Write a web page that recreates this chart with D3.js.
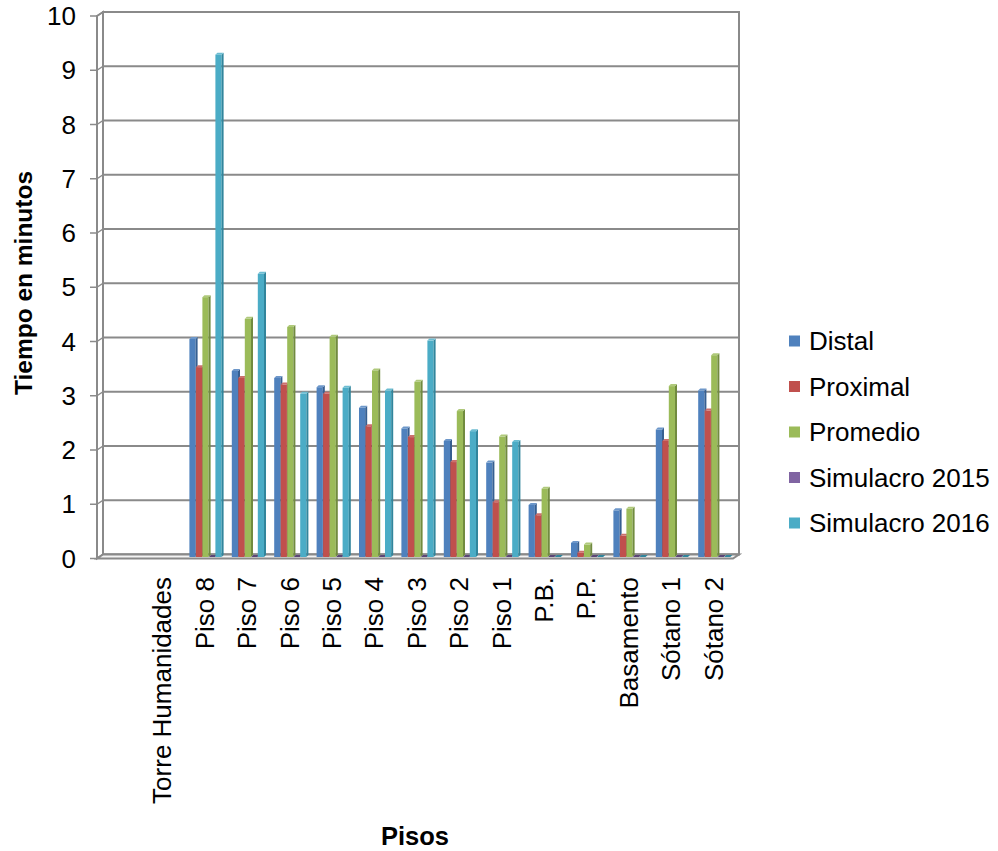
<!DOCTYPE html>
<html>
<head>
<meta charset="utf-8">
<script src="https://cdn.jsdelivr.net/npm/d3@7"></script>
<style>
  html, body { margin: 0; padding: 0; background: #fff; }
  svg { display: block; font-family: "Liberation Sans", Arial, sans-serif; }
</style>
</head>
<body>
<svg id="chart" width="998" height="851"></svg>
<script>
// Floors of the building (first entry is the building name, no data)
const categories = ["Torre Humanidades", "Piso 8", "Piso 7", "Piso 6", "Piso 5", "Piso 4",
  "Piso 3", "Piso 2", "Piso 1", "P.B.", "P.P.", "Basamento", "Sótano 1", "Sótano 2"];

const seriesNames = ["Distal", "Proximal", "Promedio", "Simulacro 2015", "Simulacro 2016"];
const seriesColors = ["#4F81BD", "#C0504D", "#9BBB59", "#8064A2", "#4BACC6"];
const seriesSides  = ["#365F91", "#8E3A38", "#718B3F", "#5C4776", "#31859C"];
const seriesTops   = ["#6D97CA", "#CC706D", "#AFC97A", "#9880B6", "#6CBDD2"];

// Evacuation time in minutes per floor
const distal      = [null, 4.02, 3.43, 3.30, 3.13, 2.75, 2.37, 2.14, 1.74, 0.96, 0.26, 0.86, 2.35, 3.07];
const proximal    = [null, 3.50, 3.30, 3.18, 3.01, 2.41, 2.21, 1.75, 1.01, 0.77, 0.08, 0.39, 2.14, 2.70];
const promedio    = [null, 4.79, 4.39, 4.24, 4.06, 3.44, 3.23, 2.69, 2.22, 1.26, 0.23, 0.89, 3.15, 3.72];
const simulacro15 = [null, 0, 0, 0, 0, 0, 0, 0, 0, 0, 0, 0, 0, 0];
const simulacro16 = [null, 9.26, 5.22, 3.01, 3.12, 3.07, 3.99, 2.32, 2.12, 0, 0, 0, 0, 0];

const yTicks = [0, 1, 2, 3, 4, 5, 6, 7, 8, 9, 10];

const seriesValues = [distal, proximal, promedio, simulacro15, simulacro16];

const svg = d3.select("#chart");
const gray = "#8a8a8a";
const fontSize = 26;

// 3D box geometry: front axis plane and back wall plane
const depthX = 6, depthY = -4;
const frontLeft = 97, frontRight = 733;
const yFront = d3.scaleLinear().domain([0, 10]).range([558.5, 16]);
const yBack = v => yFront(v) + depthY;

// Category and series scales
const x0 = d3.scaleBand().domain(categories).range([141, 734.6]).paddingInner(0);
const x1 = d3.scaleBand().domain(seriesNames).range([6, 6 + 32.5]).paddingInner(0);

// Back wall
svg.append("rect")
  .attr("x", frontLeft + depthX).attr("y", yBack(10))
  .attr("width", frontRight - frontLeft).attr("height", yBack(0) - yBack(10))
  .attr("fill", "#fff").attr("stroke", gray).attr("stroke-width", 2);

// Gridlines on the back wall and their continuation on the left wall
const grid = svg.append("g");
yTicks.forEach(v => {
  grid.append("line")
    .attr("x1", frontLeft + depthX).attr("x2", frontRight + depthX)
    .attr("y1", yBack(v)).attr("y2", yBack(v))
    .attr("stroke", gray).attr("stroke-width", 2);
  grid.append("line")
    .attr("x1", frontLeft).attr("x2", frontLeft + depthX)
    .attr("y1", yFront(v)).attr("y2", yBack(v))
    .attr("stroke", gray).attr("stroke-width", 1.5);
});

// Left wall outline
svg.append("polygon")
  .attr("points", [
    [frontLeft, yFront(10)], [frontLeft + depthX, yBack(10)],
    [frontLeft + depthX, yBack(0)], [frontLeft, yFront(0)]
  ].map(p => p.join(",")).join(" "))
  .attr("fill", "none").attr("stroke", gray).attr("stroke-width", 2);

// Floor
svg.append("polygon")
  .attr("points", [
    [frontLeft, yFront(0)], [frontLeft + depthX, yBack(0)],
    [frontRight + depthX, yBack(0)], [frontRight, yFront(0)]
  ].map(p => p.join(",")).join(" "))
  .attr("fill", "#f4f4f4").attr("stroke", gray).attr("stroke-width", 2);

// Bars (front face, side face, top face)
const barW = 6.2, bdx = 2, bdy = 2;
const barBase = 557;
const unit = yFront(0) - yFront(1);
const bars = svg.append("g");
categories.forEach((cat, ci) => {
  seriesNames.forEach((s, si) => {
    const v = seriesValues[si][ci];
    if (v === null || v === undefined) return;
    const x = x0(cat) + x1(s);
    const yt = barBase - v * unit;
    const g = bars.append("g");
    if (v > 0) {
      g.append("rect")
        .attr("x", x).attr("y", yt)
        .attr("width", barW).attr("height", barBase - yt)
        .attr("fill", seriesColors[si]);
      g.append("polygon")
        .attr("points", [[x + barW, yt], [x + barW + bdx, yt - bdy],
          [x + barW + bdx, barBase - bdy], [x + barW, barBase]].map(p => p.join(",")).join(" "))
        .attr("fill", seriesSides[si]);
    }
    g.append("polygon")
      .attr("points", [[x, yt], [x + bdx, yt - bdy],
        [x + barW + bdx, yt - bdy], [x + barW, yt]].map(p => p.join(",")).join(" "))
      .attr("fill", v > 0 ? seriesTops[si] : seriesSides[si]);
  });
});

// Front vertical axis with ticks and labels
const axisG = svg.append("g");
axisG.append("line")
  .attr("x1", frontLeft).attr("x2", frontLeft)
  .attr("y1", yFront(10)).attr("y2", yFront(0))
  .attr("stroke", gray).attr("stroke-width", 2);
yTicks.forEach(v => {
  axisG.append("line")
    .attr("x1", frontLeft - 7).attr("x2", frontLeft)
    .attr("y1", yFront(v)).attr("y2", yFront(v))
    .attr("stroke", gray).attr("stroke-width", 1.5);
  axisG.append("text")
    .attr("x", 76).attr("y", yFront(v)).attr("dy", "0.35em")
    .attr("text-anchor", "end").attr("font-size", fontSize).attr("fill", "#000")
    .text(v);
});

// Category labels, rotated
const catG = svg.append("g");
categories.forEach(cat => {
  catG.append("text")
    .attr("transform", `translate(${x0(cat) + x0.bandwidth() / 2},577) rotate(-90)`)
    .attr("dy", "0.35em").attr("text-anchor", "end")
    .attr("font-size", fontSize).attr("fill", "#000")
    .text(cat);
});

// Axis titles
svg.append("text")
  .attr("transform", "translate(23,283) rotate(-90)")
  .attr("dy", "0.35em").attr("text-anchor", "middle")
  .attr("font-size", 24.5).attr("font-weight", "bold")
  .text("Tiempo en minutos");
svg.append("text")
  .attr("x", 415).attr("y", 845).attr("text-anchor", "middle")
  .attr("font-size", 25.5).attr("font-weight", "bold")
  .text("Pisos");

// Legend
const legend = svg.append("g");
seriesNames.forEach((s, i) => {
  const cy = 341 + i * 45.5;
  legend.append("rect")
    .attr("x", 789).attr("y", cy - 5.5).attr("width", 11).attr("height", 11)
    .attr("fill", seriesColors[i]);
  legend.append("text")
    .attr("x", 809).attr("y", cy).attr("dy", "0.35em")
    .attr("font-size", fontSize).attr("fill", "#000")
    .text(s);
});
</script>
</body>
</html>
